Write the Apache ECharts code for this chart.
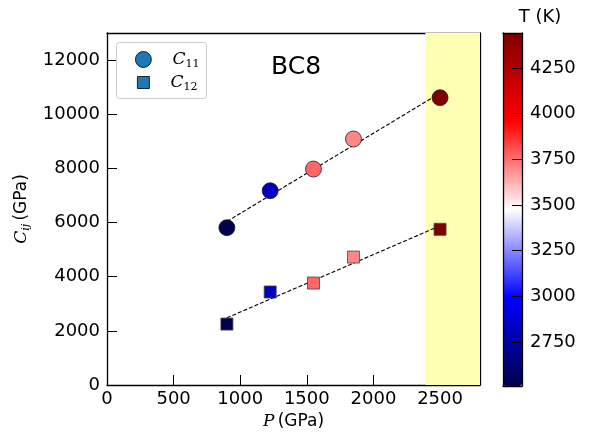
<!DOCTYPE html>
<html><head><meta charset="utf-8">
<script src="https://cdn.jsdelivr.net/npm/echarts@6/dist/echarts.min.js"></script>
<style>html,body{margin:0;padding:0;background:#fff}#c{width:595px;height:434px}</style>
</head><body><div id="c"></div>
<script>
// ---- data ----
const pressure = [900, 1225, 1550, 1850, 2500];
const c11 = [5810, 7175, 7975, 9085, 10610];
const c12 = [2250, 3435, 3765, 4725, 5750];
const temperature = [2509, 2815, 3765, 3705, 4441];
const fitX = [900, 2500];
const c11Fit = [6040, 10780];
const c12Fit = [2480, 5880];
const bandRange = [2390, 2800];
const cbTicks = [2750, 3000, 3250, 3500, 3750, 4000, 4250];
const seriesNames = ['C11', 'C12'];

const FONT = 'DejaVu Sans';
const MATH = 'DejaVu Serif';
const tMin = Math.min(...temperature), tMax = Math.max(...temperature);

const pts = (ys) => pressure.map((p, i) => [p, ys[i], temperature[i]]);
const fit = (ys) => fitX.map((x, i) => [x, ys[i]]);
const plain = (v) => String(Math.round(v));

const rich = {
  sp: {width: 16},
  m: {fontFamily: MATH, fontStyle: 'italic', fontSize: 17, color: '#000'},
  s: {fontFamily: MATH, fontStyle: 'italic', fontSize: 11, color: '#000', padding: [9, 0, 0, 0]},
  n: {fontFamily: MATH, fontSize: 11, color: '#000', padding: [9, 0, 0, 0]},
  t: {fontFamily: FONT, fontSize: 17, color: '#000'}
};
const legendFmt = (n) => '{sp|}{m|C}{n|' + n.slice(1) + '}';

const chart = echarts.init(document.getElementById('c'), null, {renderer: 'canvas'});
chart.setOption({
  animation: false,
  backgroundColor: '#fff',
  title: [
    {text: 'BC8', left: 291, top: 50, textAlign: 'center',
     textStyle: {fontFamily: FONT, fontSize: 25, fontWeight: 'normal', color: '#000'}},
    {text: 'T (K)', left: 535, top: 3, textAlign: 'center',
     textStyle: {fontFamily: FONT, fontSize: 18, fontWeight: 'normal', color: '#000'}}
  ],
  grid: [
    {left: 107, top: 33, width: 373, height: 352, containLabel: false, outerBoundsMode: 'none'},
    {left: 503, top: 33, width: 19, height: 353, containLabel: false, outerBoundsMode: 'none'}
  ],
  xAxis: [
    {gridIndex: 0, type: 'value', min: 0, max: 2800, interval: 500, position: 'bottom',
     name: '{m|P} {t|(GPa)}', nameLocation: 'middle', nameGap: 27,
     nameTextStyle: {rich: rich},
     axisLine: {show: true, onZero: false, lineStyle: {color: '#000', width: 1.3}},
     axisTick: {show: true, inside: true, length: 10, lineStyle: {color: '#000'}},
     axisLabel: {fontFamily: FONT, fontSize: 18, color: '#000', margin: 5, formatter: plain, showMaxLabel: false},
     splitLine: {show: false}},
    {gridIndex: 0, type: 'value', min: 0, max: 2800, position: 'top',
     axisLine: {show: true, onZero: false, lineStyle: {color: '#000', width: 1.3}},
     axisTick: {show: false}, axisLabel: {show: false}, splitLine: {show: false}},
    {gridIndex: 1, type: 'value', min: 0, max: 1, show: true, position: 'bottom',
     axisLine: {show: true, onZero: false, lineStyle: {color: '#000', width: 1.3}},
     axisTick: {show: false}, axisLabel: {show: false}, splitLine: {show: false}, z: 10},
    {gridIndex: 1, type: 'value', min: 0, max: 1, show: true, position: 'top',
     axisLine: {show: true, onZero: false, lineStyle: {color: '#000', width: 1.3}},
     axisTick: {show: false}, axisLabel: {show: false}, splitLine: {show: false}, z: 10}
  ],
  yAxis: [
    {gridIndex: 0, type: 'value', min: 0, max: 13000, interval: 2000, position: 'left',
     name: '{m|C}{s|ij} {t|(GPa)}', nameLocation: 'middle', nameGap: 54, nameRotate: 90,
     nameTextStyle: {rich: rich},
     axisLine: {show: true, onZero: false, lineStyle: {color: '#000', width: 1.3}},
     axisTick: {show: true, inside: true, length: 10, lineStyle: {color: '#000'}},
     axisLabel: {fontFamily: FONT, fontSize: 18, color: '#000', margin: 7, formatter: plain, showMaxLabel: false},
     splitLine: {show: false}},
    {gridIndex: 0, type: 'value', min: 0, max: 13000, position: 'right',
     axisLine: {show: true, onZero: false, lineStyle: {color: '#000', width: 1.3}},
     axisTick: {show: false}, axisLabel: {show: false}, splitLine: {show: false}},
    {gridIndex: 1, type: 'value', min: tMin, max: tMax, position: 'right',
     axisLine: {show: true, onZero: false, lineStyle: {color: '#000', width: 1.3}},
     axisTick: {show: true, inside: true, length: 10, customValues: cbTicks, lineStyle: {color: '#000'}},
     axisLabel: {fontFamily: FONT, fontSize: 18, color: '#000', margin: 8, customValues: cbTicks, formatter: plain},
     splitLine: {show: false}, z: 10},
    {gridIndex: 1, type: 'value', min: tMin, max: tMax, position: 'left',
     axisLine: {show: true, onZero: false, lineStyle: {color: '#000', width: 1.3}},
     axisTick: {show: false}, axisLabel: {show: false}, splitLine: {show: false}, z: 10}
  ],
  visualMap: {
    type: 'continuous', seriesIndex: [3, 4], dimension: 2,
    min: tMin, max: tMax, left: 503, top: 33, itemWidth: 19, itemHeight: 353,
    padding: 0, calculable: false, showLabel: false, text: null,
    inRange: {color: ['#00004c', '#0000ff', '#ffffff', '#ff0000', '#7f0000']}
  },
  legend: [
    {data: [{name: seriesNames[0], icon: 'circle', itemStyle: {color: '#1f77b4', borderColor: '#000', borderWidth: 0.8}}],
     left: 130, top: 46, itemWidth: 16, itemHeight: 16, selectedMode: false, z: 10,
     formatter: legendFmt, textStyle: {rich: rich}},
    {data: [{name: seriesNames[1], icon: 'rect', itemStyle: {color: '#1f77b4', borderColor: '#000', borderWidth: 0.8}}],
     left: 132, top: 69, itemWidth: 12, itemHeight: 12, selectedMode: false, z: 10,
     formatter: legendFmt, textStyle: {rich: rich}}
  ],
  graphic: [
    {type: 'rect', left: 116, top: 42, z: 5, silent: true,
     shape: {width: 90, height: 56, r: 3},
     style: {fill: 'rgba(255,255,255,0.8)', stroke: '#cccccc', lineWidth: 1}}
  ],
  series: [
    {type: 'line', xAxisIndex: 0, yAxisIndex: 0, data: [], silent: true,
     markArea: {silent: true, itemStyle: {color: '#ffffb3'},
       data: [[{xAxis: bandRange[0]}, {xAxis: bandRange[1]}]]}, z: 1},
    {type: 'line', xAxisIndex: 0, yAxisIndex: 0, data: fit(c11Fit), symbol: 'none', silent: true,
     lineStyle: {color: '#000', width: 1.1, type: [4, 2]}, z: 3},
    {type: 'line', xAxisIndex: 0, yAxisIndex: 0, data: fit(c12Fit), symbol: 'none', silent: true,
     lineStyle: {color: '#000', width: 1.1, type: [4, 2]}, z: 3},
    {name: seriesNames[0], type: 'scatter', xAxisIndex: 0, yAxisIndex: 0, data: pts(c11),
     symbol: 'circle', symbolSize: 16, itemStyle: {color: '#1f77b4', borderColor: '#222', borderWidth: 0.8, opacity: 1}, z: 4},
    {name: seriesNames[1], type: 'scatter', xAxisIndex: 0, yAxisIndex: 0, data: pts(c12),
     symbol: 'rect', symbolSize: 12, itemStyle: {color: '#1f77b4', borderColor: '#444', borderWidth: 0.8, opacity: 1}, z: 4}
  ]
});
</script></body></html>
